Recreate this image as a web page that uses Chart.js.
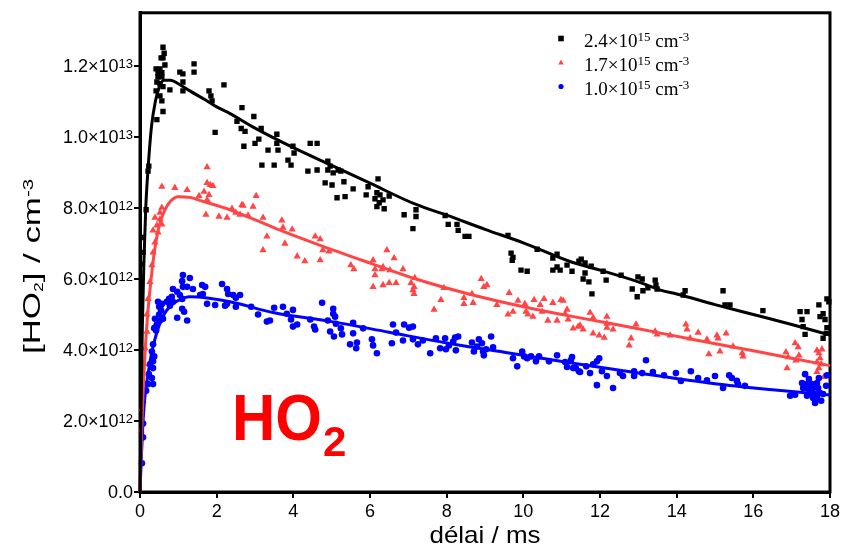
<!DOCTYPE html>
<html><head><meta charset="utf-8">
<script src="https://cdn.jsdelivr.net/npm/chart.js@4.4.1/dist/chart.umd.min.js"></script>
<style>html,body{margin:0;padding:0;background:#fff;}#wrap{width:854px;height:548px;}</style>
</head><body><div id="wrap"><canvas id="c" width="854" height="548"></canvas></div>
<script>
// ---------- data (delay in ms, [HO2] in units of 1e12 cm^-3) ----------
const UNIT = 1e12;
const xTicks = [0, 2, 4, 6, 8, 10, 12, 14, 16, 18];
const yTicks = [0, 2, 4, 6, 8, 10, 12];
const seriesMantissa = ['2.4', '1.7', '1.0'];
const seriesExponent = ['15', '15', '15'];

const blackPoints = [
[0.05,6.42],[0.08,6.75],[0.08,7.17],[0.16,7.95],[0.21,9.04],[0.23,9.18],
[0.42,11.92],[0.42,11.30],[0.44,11.55],[0.44,10.49],[0.47,11.81],[0.47,11.70],[0.52,11.92],[0.52,11.50],[0.52,11.16],[0.55,12.23],[0.57,11.81],[0.57,11.70],[0.57,11.02],[0.60,12.53],[0.60,12.23],[0.60,11.42],[0.60,10.72],[0.63,12.36],[0.65,12.03],[0.78,11.33],
[1.04,11.83],[1.12,11.78],[1.12,11.55],[1.12,11.30],[1.41,12.06],[1.41,11.83],[1.80,11.30],[1.85,11.16],[1.88,11.02],[1.96,10.13],[2.19,11.47],
[2.53,10.44],[2.66,10.83],[2.64,10.24],[2.74,10.16],[2.71,9.74],[2.97,10.58],[3.00,9.82],[3.16,10.24],[3.10,9.94],[3.34,9.63],[3.18,9.21],[3.50,9.21],[3.57,10.08],[3.60,9.63],[3.57,9.82],[3.86,9.35],[3.94,9.21],[3.99,9.74],[4.02,9.55],[4.44,9.82],[4.62,9.82],[4.38,9.04],[4.62,9.07],[4.83,8.71],[4.90,9.32],[4.90,9.07],
[4.96,9.18],[5.04,8.99],[5.17,9.07],[5.24,9.04],[5.01,8.65],[5.14,8.29],[5.35,8.32],[5.32,8.74],[5.56,8.54],[5.90,8.37],[5.95,8.60],[6.21,8.82],[6.18,8.43],[6.26,8.37],[6.13,8.26],[6.24,8.15],[6.18,8.04],[6.37,7.98],[6.34,8.23],[6.50,8.34],[6.89,7.81],[7.20,7.95],[7.20,7.76],[7.12,7.42],[7.96,7.79],[8.04,7.54],[8.27,7.54],[8.30,7.37],[8.48,7.20],[8.58,7.20],[9.60,7.23],[9.68,6.73],[9.73,6.61],[9.71,6.53],[9.94,6.25],[10.10,6.22],[10.36,6.84],[10.77,6.59],[10.88,6.70],[10.88,6.34],[10.77,6.25],[10.96,6.25],[11.14,6.39],[11.27,6.22],[11.45,6.50],
[11.51,6.56],[11.61,6.45],[11.61,6.17],[11.56,6.00],[11.71,5.92],[11.79,5.58],[11.77,6.36],[12.08,6.22],[12.16,5.97],[12.55,6.11],[12.84,5.72],[12.97,5.50],[12.99,6.06],[13.10,6.00],[13.12,5.67],[13.25,5.75],[13.44,5.97],[13.46,5.83],[13.49,5.72],[14.22,5.67],[14.17,5.55],[15.21,5.67],[15.26,5.27],[15.39,5.27],[16.25,5.11],[17.22,5.08],[17.40,5.08],[17.27,4.86],[17.30,4.66],[17.35,4.44],[17.71,5.27],[17.74,4.94],[17.82,5.02],[17.87,4.86],[17.92,4.63],[17.82,4.33],[17.92,5.44],[17.90,4.47],[17.97,5.36]
];

const redPoints = [
[0.03,1.73],[0.05,2.34],[0.08,2.57],[0.10,2.85],[0.08,3.13],[0.10,3.60],[0.13,4.05],[0.18,4.52],[0.18,5.00],[0.21,5.44],[0.26,5.92],[0.31,6.39],[0.34,6.75],[0.39,7.03],[0.47,7.31],
[0.34,7.37],[0.44,7.51],[0.57,7.54],[0.52,7.68],[0.39,7.73],[0.52,7.87],[0.57,8.01],[0.57,8.60],[0.91,8.57],[1.23,8.51],[1.54,8.34],[1.67,8.46],[1.75,8.23],[1.80,8.37],[1.75,9.15],[1.75,8.71],[1.83,8.65],[1.90,8.62],[1.72,7.81],[2.06,7.76],[2.27,7.73],[2.40,7.98],[2.50,7.87],[2.61,7.81],[2.66,8.09],[2.69,8.07],[2.82,7.79],[2.95,8.04],[3.03,8.34],[3.21,7.73],[3.70,7.65],[3.73,7.45],[3.97,7.40],
[3.31,7.20],[3.78,7.00],[3.21,6.81],[4.10,6.64],[4.30,6.50],[4.70,6.53],[4.57,7.20],
[4.70,7.12],[4.77,6.81],[4.93,6.78],[5.50,6.39],[5.58,6.28],[6.08,6.53],[6.13,6.28],[6.31,6.28],[6.34,6.34],[6.44,6.81],[6.52,6.25],[6.63,6.59],[6.86,6.28],[6.13,6.11],[6.08,5.78],[6.34,5.83],[6.50,5.89],[6.68,5.89],[7.07,5.89],[7.17,6.03],[7.15,5.78],[7.12,5.69],[7.15,5.58],[7.67,5.14],[7.85,5.41],[7.93,5.75],[8.45,5.47],[8.45,5.30],[8.66,5.58],[8.69,5.33],[8.90,6.00],[8.97,5.78],[9.05,5.83],[9.31,5.27],[9.63,5.61],[9.60,5.00],[9.73,5.08],[9.86,5.39],[10.04,5.30],[10.07,5.08],[10.12,5.00],[10.25,4.94],[10.28,5.41],[10.44,5.27],[10.49,5.08],[10.54,5.44],[10.64,4.83],[10.77,5.33],[10.88,4.83],[10.98,5.41],[11.04,5.39],[11.09,5.02],[11.14,5.14],[11.17,4.86],[11.30,4.61],[11.43,4.66],
[11.48,4.69],[11.56,4.58],[11.74,5.05],[11.82,4.91],[11.82,4.47],[11.98,4.41],[12.11,4.35],[12.18,4.94],[12.18,4.74],[12.18,4.63],[12.34,4.58],[12.76,4.13],[12.81,4.33],[12.94,4.72],[13.44,4.52],[13.49,4.44],[13.83,4.41],[14.24,4.72],[14.27,4.58],[14.35,4.33],[14.56,4.49],[14.79,4.30],[14.84,3.88],[15.05,4.41],[15.08,4.33],[15.13,3.96],[15.29,4.47],[15.47,4.10],[15.71,3.91],[15.73,3.82],[16.85,3.94],[16.88,3.49],[16.91,3.80],[17.09,4.19],[17.11,3.71],[17.17,4.08],[17.19,3.85],[17.66,3.99],[17.66,3.66],[17.66,3.38],[17.71,3.91],[17.71,3.49],[17.74,3.77],[17.77,3.60],[17.79,4.02],[17.84,3.24]
];

const bluePoints = [
[0.05,0.81],[0.08,1.54],[0.08,1.93],[0.16,2.85],[0.21,3.04],[0.34,3.04],[0.31,3.21],[0.23,3.32],[0.34,3.49],[0.26,3.60],[0.34,3.68],[0.37,3.82],[0.31,3.96],[0.34,4.16],[0.37,4.61],[0.39,4.63],[0.42,4.55],[0.44,4.72],[0.39,4.88],[0.52,4.83],[0.50,5.00],[0.60,4.88],[0.55,5.11],[0.50,5.22],[0.55,5.27],[0.57,5.30],[0.47,5.36],[0.70,5.36],[0.78,5.25],[0.76,5.44],[0.83,5.50],[0.86,5.36],[0.86,5.72],[0.97,5.64],[0.97,4.91],[1.04,5.55],[1.10,5.44],[1.10,5.16],[1.10,5.94],[1.12,6.11],[1.12,5.78],[1.15,5.08],[1.23,5.78],[1.23,4.83],[1.30,6.03],[1.38,5.72],[1.57,5.55],[1.62,5.83],[1.64,5.58],[1.70,5.78],[1.75,5.30],[1.96,5.27],[2.14,5.86],[2.22,5.25],[2.27,5.72],[2.27,5.30],[2.30,5.58],[2.43,5.55],[2.50,5.47],[2.50,5.22],[2.61,5.55],[2.90,5.22],[3.08,5.00],[3.31,4.80],[3.39,4.83],[3.50,5.19],[3.73,5.22],[3.83,5.02],[3.94,4.86],[3.99,5.13],[3.99,4.66],[4.10,4.72],[4.44,4.86],[4.54,4.66],[4.57,4.58],[4.75,5.33],[4.96,4.52],
[5.04,5.16],[5.04,5.02],[5.09,4.94],[4.90,4.83],[5.11,4.74],[5.06,4.38],[5.24,4.61],[5.27,4.44],[5.56,4.77],[5.56,4.47],[5.48,4.16],[5.66,4.21],[5.64,4.05],[5.82,4.61],[6.05,4.30],[6.08,4.13],[6.18,3.91],[6.60,4.72],[6.68,4.49],[6.57,4.19],[6.86,4.27],[6.89,4.72],[7.02,4.63],[7.12,4.66],[7.12,4.30],[7.25,4.16],[7.38,4.27],[7.57,3.91],[7.72,4.33],[7.83,4.05],[7.96,4.33],[7.98,4.02],[8.06,4.13],[8.17,4.24],[8.22,4.35],[8.30,4.38],[8.24,3.99],[8.66,4.21],[8.71,3.96],[8.79,4.10],[8.84,4.30],[8.92,4.19],[8.95,3.96],[8.97,3.85],[9.03,4.02],[9.16,4.38],[9.21,4.08],[9.73,3.77],[9.84,3.54],[9.97,3.96],[10.02,3.82],[10.10,3.77],[10.20,3.82],[10.33,3.68],[10.41,3.82],[10.67,3.68],[10.88,3.85],[11.09,3.66],[11.14,3.52],[11.24,3.71],[11.37,3.49],[11.45,3.40],
[11.27,3.80],[11.30,3.49],[11.48,3.38],[11.64,3.54],[11.74,3.35],[11.82,3.60],[11.92,3.68],[11.98,3.77],[11.92,3.01],[12.05,3.40],[12.18,3.27],[12.34,2.93],[12.52,3.35],[12.60,3.27],[12.89,3.40],[12.89,3.27],[13.10,3.35],[13.20,3.71],[13.38,3.38],[13.67,3.29],[13.98,3.35],[14.11,3.13],[14.37,3.40],[14.56,3.21],[14.79,3.15],[15.00,3.27],[15.21,2.93],[15.37,3.29],[15.44,3.21],[15.57,3.13],[15.60,3.04],[15.78,2.99],[16.96,2.71],[17.09,2.74],[17.35,3.32],[17.45,3.18],[17.27,3.07],[17.40,3.04],[17.53,3.04],[17.66,3.07],[17.30,2.93],[17.43,2.90],[17.56,2.93],[17.69,2.93],[17.48,2.79],[17.61,2.76],[17.74,2.79],[17.40,2.71],[17.56,2.65],[17.66,2.65],[17.61,2.51],[17.77,2.57],[17.90,2.99],[17.92,3.29],[17.82,2.76],[17.71,3.21]
];

const blackFit = [[0,0],[0.03,2.5],[0.06,4.6],[0.1,6.4],[0.15,8.0],[0.21,9.1],[0.3,10.3],[0.4,11.0],[0.5,11.4],[0.62,11.6],[0.8,11.6],[1.0,11.5],[1.3,11.3],[1.7,11.05],[2.0,10.85],[2.35,10.66],[3.0,10.25],[4.0,9.7],[5.0,9.2],[6.0,8.7],[7.2,8.1],[8.0,7.8],[9.0,7.4],[10.0,7.02],[11.2,6.5],[12.0,6.25],[13.0,5.92],[13.6,5.68],[14.0,5.58],[15.0,5.28],[16.0,5.0],[17.0,4.72],[18.0,4.42]];
const redFit = [[0,0],[0.04,1.6],[0.08,2.8],[0.13,3.9],[0.2,5.0],[0.28,5.9],[0.38,6.8],[0.5,7.5],[0.65,7.95],[0.8,8.2],[1.0,8.32],[1.3,8.3],[1.6,8.2],[2.35,7.95],[3.6,7.4],[4.7,6.95],[6.0,6.45],[7.2,6.0],[8.5,5.6],[10.0,5.22],[11.3,4.94],[13.0,4.6],[14.5,4.28],[16.0,3.98],[17.0,3.77],[18.0,3.56]];
const blueFit = [[0,0],[0.04,1.1],[0.08,2.0],[0.13,2.7],[0.2,3.25],[0.3,3.9],[0.44,4.5],[0.6,4.95],[0.8,5.25],[1.0,5.4],[1.3,5.5],[1.8,5.46],[2.35,5.36],[3.5,5.05],[5.0,4.8],[6.5,4.5],[8.0,4.2],[9.5,3.94],[11.3,3.63],[13.0,3.35],[15.0,3.05],[16.5,2.88],[18.0,2.73]];

// ---------- chart ----------
const toXY = a => a.map(([x, y]) => ({x, y}));
const SANS = '"Liberation Sans", Arial, Helvetica, sans-serif';
const SERIF = '"Liberation Serif", "Times New Roman", serif';
const COLORS = ['#000000', '#ff4545', '#0000ff'];
const STYLES = ['rect', 'triangle', 'circle'];

function stretchedText(ctx, parts, x, y, align, targetWidth) {
  // parts: [text, font, dy]
  let w = 0;
  parts.forEach(p => { ctx.font = p[1]; w += ctx.measureText(p[0]).width; });
  const sx = targetWidth ? targetWidth / w : 1;
  const total = w * sx;
  let start = align === 'center' ? x - total / 2 : (align === 'right' ? x - total : x);
  ctx.save();
  ctx.translate(start, y);
  ctx.scale(sx, 1);
  ctx.textAlign = 'left';
  ctx.textBaseline = 'alphabetic';
  let cx = 0;
  parts.forEach(p => { ctx.font = p[1]; ctx.fillText(p[0], cx, p[2]); cx += ctx.measureText(p[0]).width; });
  ctx.restore();
}

function drawMarker(ctx, style, x, y, r, color) {
  ctx.fillStyle = color;
  ctx.beginPath();
  if (style === 'rect') { ctx.rect(x - r, y - r, 2 * r, 2 * r); }
  else if (style === 'triangle') { ctx.moveTo(x, y - r * 1.1); ctx.lineTo(x + r, y + r * 0.7); ctx.lineTo(x - r, y + r * 0.7); ctx.closePath(); }
  else { ctx.arc(x, y, r, 0, Math.PI * 2); }
  ctx.fill();
}

const decor = {
  id: 'decor',
  beforeDatasetsDraw(chart) {
    const {ctx, chartArea: a} = chart;
    ctx.save();
    ctx.strokeStyle = '#000';
    ctx.lineWidth = 3;
    ctx.strokeRect(a.left, a.top, a.right - a.left, a.bottom - a.top);
    ctx.restore();
  },
  afterDraw(chart) {
    const {ctx} = chart;
    const ys = chart.scales.y;
    ctx.save();
    ctx.fillStyle = '#000';
    // y tick labels with superscript exponents
    yTicks.forEach(v => {
      const py = ys.getPixelForValue(v);
      const right = 133;
      if (v === 0) {
        stretchedText(ctx, [['0.0', '18px ' + SANS, 0]], right, py + 6, 'right');
        return;
      }
      const full = v * UNIT;
      const e = Math.floor(Math.log10(full) + 1e-9);
      const m = (full / Math.pow(10, e)).toFixed(1);
      stretchedText(ctx, [[m + '×10', '18px ' + SANS, 0], [String(e), '13px ' + SANS, -4]], right, py + 6, 'right');
    });
    // x title
    stretchedText(ctx, [['délai / ms', '24px ' + SANS, 0]], 485, 543, 'center', 111);
    // y title (rotated)
    ctx.save();
    ctx.translate(40, 266.5);
    ctx.rotate(-Math.PI / 2);
    stretchedText(ctx, [['[HO', '24px ' + SANS, 0], ['2', '12px ' + SANS, 3], ['] / cm', '24px ' + SANS, 0], ['-3', '14px ' + SANS, -7]], 0, 0, 'center', 175);
    ctx.restore();
    // legend
    const base = [47, 71, 95];
    seriesMantissa.forEach((m, i) => {
      drawMarker(ctx, STYLES[i], 561, base[i] - 8.5, i === 2 ? 2.6 : 2.8, COLORS[i]);
      ctx.fillStyle = '#000';
      stretchedText(ctx, [[m + '×10', '19px ' + SERIF, 0], [seriesExponent[i], '13px ' + SERIF, -6], [' cm', '19px ' + SERIF, 0], ['-3', '13px ' + SERIF, -6]], 584, base[i], 'left');
    });
    // HO2 annotation
    ctx.fillStyle = '#ff0000';
    stretchedText(ctx, [['HO', 'bold 64px ' + SANS, 0]], 232, 440, 'left', 90);
    stretchedText(ctx, [['2', 'bold 42px ' + SANS, 0]], 323, 456, 'left');
    ctx.restore();
  }
};

const scatterDs = (pts, i, r, order) => ({
  type: 'scatter', data: toXY(pts), pointStyle: STYLES[i], pointRadius: r,
  backgroundColor: COLORS[i], borderColor: COLORS[i], borderWidth: 0, pointBorderWidth: 0,
  order, clip: 6
});
const lineDs = (pts, color) => ({
  type: 'line', data: toXY(pts), borderColor: color, borderWidth: 3, pointRadius: 0,
  fill: false, cubicInterpolationMode: 'monotone', order: 0, clip: 6
});

new Chart(document.getElementById('c'), {
  type: 'scatter',
  data: {
    datasets: [
      lineDs(blackFit, '#000000'),
      lineDs(redFit, '#ff4545'),
      lineDs(blueFit, '#0000ff'),
      scatterDs(bluePoints, 2, 3.3, 1),
      scatterDs(redPoints, 1, 4.2, 2),
      scatterDs(blackPoints, 0, 3.8, 3)
    ]
  },
  options: {
    responsive: false,
    animation: false,
    events: [],
    devicePixelRatio: 1,
    layout: {padding: {left: 0, right: 24, top: 8, bottom: 0}},
    plugins: {legend: {display: false}, tooltip: {enabled: false}},
    scales: {
      x: {
        type: 'linear', min: 0, max: 18,
        afterFit: s => { s.height = 56; },
        afterBuildTicks: s => { s.ticks = xTicks.map(v => ({value: v})); },
        ticks: {stepSize: 2, includeBounds: false, color: '#000', padding: 3, maxRotation: 0,
          font: {family: SANS, size: 18}},
        grid: {drawOnChartArea: false, drawTicks: true, tickLength: 6, color: '#000', lineWidth: 2},
        border: {display: true, color: '#000', width: 3}
      },
      y: {
        type: 'linear', min: 0, max: 13.5,
        afterFit: s => { s.width = 140; },
        afterBuildTicks: s => { s.ticks = yTicks.map(v => ({value: v})); },
        ticks: {stepSize: 2, includeBounds: false, color: 'rgba(0,0,0,0)', padding: 2,
          font: {family: SANS, size: 18}},
        grid: {drawOnChartArea: false, drawTicks: true, tickLength: 6, color: '#000', lineWidth: 2},
        border: {display: true, color: '#000', width: 3}
      }
    }
  },
  plugins: [decor]
});
</script>
</body></html>
